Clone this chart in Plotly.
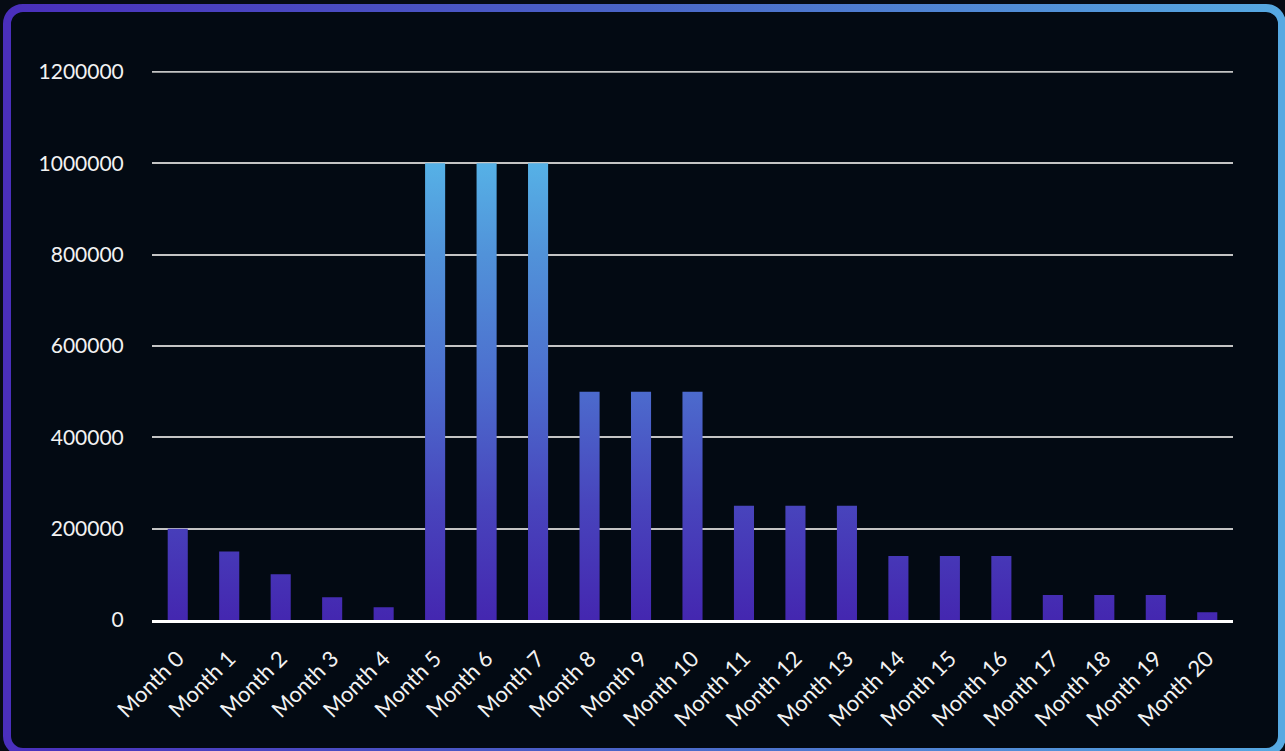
import base64
import plotly.graph_objects as go

# ---- data ----
months = ["Month 0", "Month 1", "Month 2", "Month 3", "Month 4", "Month 5", "Month 6",
          "Month 7", "Month 8", "Month 9", "Month 10", "Month 11", "Month 12", "Month 13",
          "Month 14", "Month 15", "Month 16", "Month 17", "Month 18", "Month 19", "Month 20"]
values = [200000, 150000, 100000, 50000, 28000, 1000000, 1000000, 1000000, 500000, 500000,
          500000, 250000, 250000, 250000, 140000, 140000, 140000, 55000, 55000, 55000, 17000]
y_ticks = [0, 200000, 400000, 600000, 800000, 1000000, 1200000]

# ---- style ----
W, H = 1285, 751
ML, MR, MT, MB = 152, 52, 71, 131
PW, PH = W - ML - MR, H - MT - MB
BAR_HALF = 0.195
FONT = "Lato"
GRID_COLOR = "#c4c4c4"
GRID_WIDTH = 1.8

# bars as filled polygons (so a vertical gradient can be applied), built from the data
xs, ys = [], []
for i, v in enumerate(values):
    xs += [i - BAR_HALF, i - BAR_HALF, i + BAR_HALF, i + BAR_HALF, i - BAR_HALF, None]
    ys += [0, v, v, 0, 0, None]

fig = go.Figure()
fig.add_trace(go.Scatter(
    x=xs, y=ys, mode="lines", fill="toself",
    line=dict(width=0, color="rgba(0,0,0,0)"),
    fillcolor="#4a5fc8",
    fillgradient=dict(type="vertical",
                      colorscale=[[0, "#4427b0"], [0.25, "#4844bc"], [0.5, "#4c6bcd"],
                                  [0.8, "#5192d9"], [1, "#56b1e6"]],
                      start=0, stop=1000000),
    hoverinfo="skip", showlegend=False,
))

# gradient rounded border as background image
svg = (f'<svg xmlns="http://www.w3.org/2000/svg" width="{W}" height="{H}" viewBox="0 0 {W} {H}">'
       '<defs><linearGradient id="g" x1="0" y1="0" x2="1" y2="0">'
       '<stop offset="0" stop-color="#4a2fbc"/><stop offset="0.5" stop-color="#4a66c8"/>'
       '<stop offset="1" stop-color="#56a9e2"/></linearGradient></defs>'
       '<rect x="7" y="8" width="1275" height="744" rx="16" ry="16" fill="#030a13" '
       'stroke="url(#g)" stroke-width="8"/></svg>')
src = "data:image/svg+xml;base64," + base64.b64encode(svg.encode()).decode()

fig.update_layout(
    width=W, height=H,
    margin=dict(l=ML, r=MR, t=MT, b=MB, pad=0),
    paper_bgcolor="#060b14",
    plot_bgcolor="rgba(0,0,0,0)",
    font=dict(family=FONT, size=21, color="#f2f2f2"),
    showlegend=False,
    images=[dict(source=src, xref="paper", yref="paper",
                 x=-ML / PW, y=1 + MT / PH, sizex=W / PW, sizey=H / PH,
                 xanchor="left", yanchor="top", sizing="stretch", layer="below")],
    # top gridline (plotly omits the gridline lying on the range edge)
    shapes=[dict(type="line", xref="paper", x0=0, x1=1, yref="y",
                 y0=y_ticks[-1], y1=y_ticks[-1], layer="below",
                 line=dict(color=GRID_COLOR, width=GRID_WIDTH))],
    xaxis=dict(range=[-0.5, len(values) - 0.5], tickvals=list(range(len(months))),
               ticktext=months, tickangle=-45, showgrid=False, zeroline=False,
               showline=True, linecolor="#ffffff", linewidth=3,
               ticks="outside", ticklen=14, tickcolor="rgba(0,0,0,0)",
               tickfont=dict(family=FONT, size=22, color="#f2f2f2"), fixedrange=True),
    yaxis=dict(range=[0, 1202000], tickvals=y_ticks, tickformat="d",
               showgrid=True, gridcolor=GRID_COLOR, gridwidth=GRID_WIDTH, zeroline=False,
               showline=False, ticks="outside", ticklen=23, tickcolor="rgba(0,0,0,0)",
               tickfont=dict(family=FONT, size=21, color="#f2f2f2"), fixedrange=True),
)

fig.write_html("out.html", config={"displayModeBar": False},
               post_script="document.body.style.margin='0';document.body.style.background='#060b14';")
